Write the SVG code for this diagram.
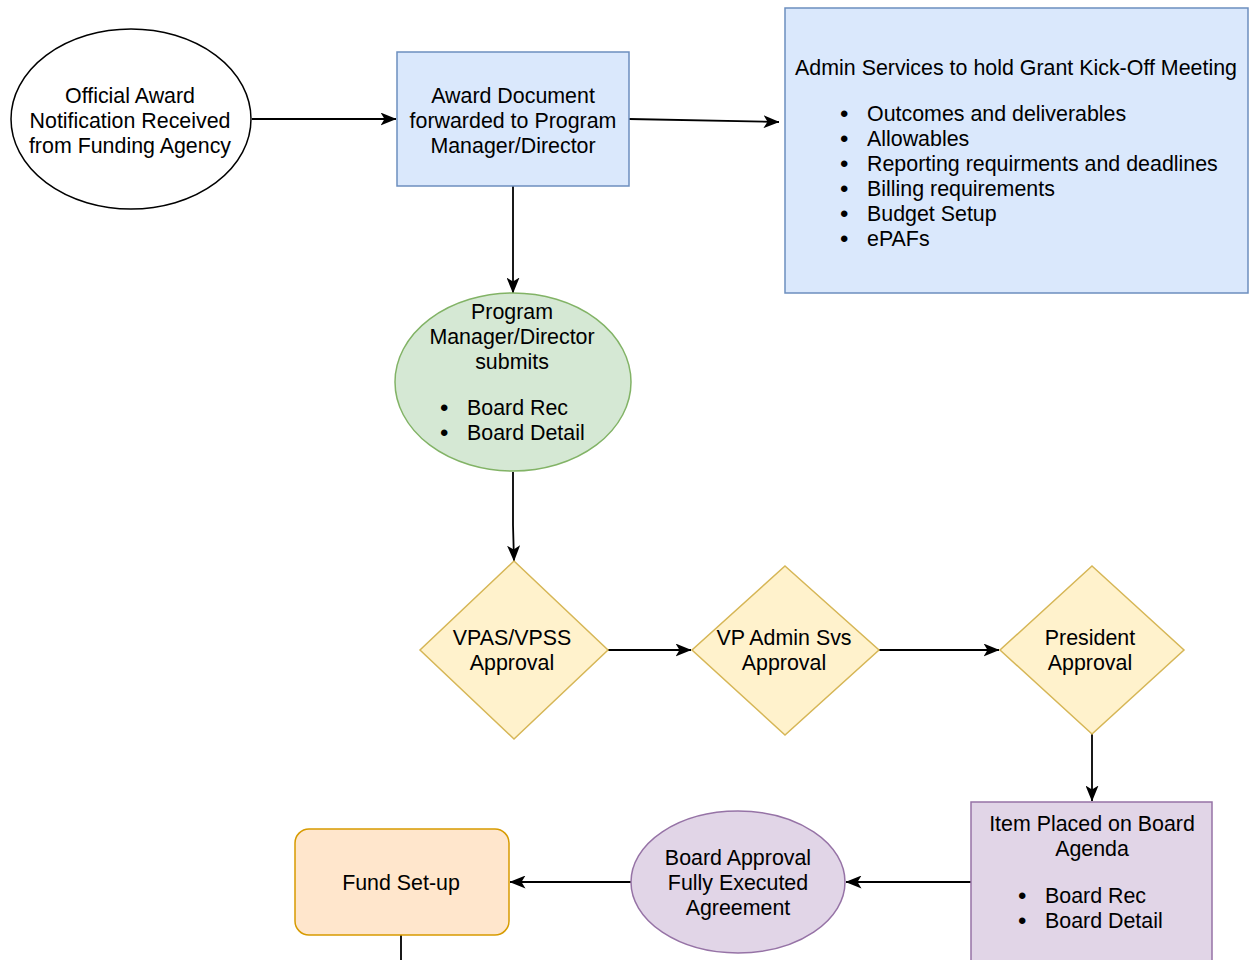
<svg xmlns="http://www.w3.org/2000/svg" width="1249" height="960" viewBox="0 0 1249 960">
<defs>
<marker id="arr" viewBox="0 0 16 13" refX="15.5" refY="6.5" markerWidth="16" markerHeight="13" markerUnits="userSpaceOnUse" orient="auto">
<path d="M0,0 L16,6.5 L0,13 L4,6.5 Z" fill="#000"/>
</marker>
</defs>
<style>
text{font-family:"Liberation Sans",Arial,sans-serif;font-size:21.4px;fill:#000}
.c{text-anchor:middle}
.b{font-size:24px}
.edge{fill:none;stroke:#000;stroke-width:1.8}
.blue{fill:#dae8fc;stroke:#6c8ebf;stroke-width:1.5}
.green{fill:#d5e8d4;stroke:#82b366;stroke-width:1.5}
.yellow{fill:#fff2cc;stroke:#d6b656;stroke-width:1.5}
.purple{fill:#e1d5e7;stroke:#9673a6;stroke-width:1.5}
.orange{fill:#ffe6cc;stroke:#d79b00;stroke-width:1.5}
</style>
<rect width="1249" height="960" fill="#fff"/>
<g id="connectors">
<path class="edge" d="M252,119 L396,119" marker-end="url(#arr)"/>
<path class="edge" d="M629,119 L779,122" marker-end="url(#arr)"/>
<path class="edge" d="M513,186 L513,293" marker-end="url(#arr)"/>
<path class="edge" d="M513,472 L513,525 L514,561" marker-end="url(#arr)"/>
<path class="edge" d="M608,650 L691,650" marker-end="url(#arr)"/>
<path class="edge" d="M879,650 L999,650" marker-end="url(#arr)"/>
<path class="edge" d="M1092,734 L1092,801" marker-end="url(#arr)"/>
<path class="edge" d="M971,882 L846,882" marker-end="url(#arr)"/>
<path class="edge" d="M631,882 L510,882" marker-end="url(#arr)"/>
<path class="edge" d="M401,935 L401,960"/>
</g>
<g id="award-notification">
<ellipse cx="131" cy="119" rx="120" ry="90" fill="#fff" stroke="#000" stroke-width="1.5"/>
<text class="c"><tspan x="130" y="103">Official Award</tspan><tspan x="130" y="128">Notification Received</tspan><tspan x="130" y="153">from Funding Agency</tspan></text>
</g>
<g id="award-document">
<rect class="blue" x="397" y="52" width="232" height="134"/>
<text class="c"><tspan x="513" y="103">Award Document</tspan><tspan x="513" y="128">forwarded to Program</tspan><tspan x="513" y="153">Manager/Director</tspan></text>
</g>
<g id="kickoff-meeting">
<rect class="blue" x="785" y="8" width="463" height="285"/>
<text class="c" x="1016" y="75">Admin Services to hold Grant Kick-Off Meeting</text>
<text><tspan class="b" x="840" y="122">•</tspan><tspan x="867" y="121">Outcomes and deliverables</tspan><tspan class="b" x="840" y="147">•</tspan><tspan x="867" y="146">Allowables</tspan><tspan class="b" x="840" y="172">•</tspan><tspan x="867" y="171">Reporting requirments and deadlines</tspan><tspan class="b" x="840" y="197">•</tspan><tspan x="867" y="196">Billing requirements</tspan><tspan class="b" x="840" y="222">•</tspan><tspan x="867" y="221">Budget Setup</tspan><tspan class="b" x="840" y="247">•</tspan><tspan x="867" y="246">ePAFs</tspan></text>
</g>
<g id="pm-submits">
<ellipse class="green" cx="513" cy="382" rx="118" ry="89"/>
<text class="c"><tspan x="512" y="319">Program</tspan><tspan x="512" y="344">Manager/Director</tspan><tspan x="512" y="369">submits</tspan></text>
<text><tspan class="b" x="440" y="416">•</tspan><tspan x="467" y="415">Board Rec</tspan><tspan class="b" x="440" y="441">•</tspan><tspan x="467" y="440">Board Detail</tspan></text>
</g>
<g id="vpas-approval">
<path class="yellow" d="M514,561 L608,650 L514,739 L420,650 Z"/>
<text class="c"><tspan x="512" y="645">VPAS/VPSS</tspan><tspan x="512" y="670">Approval</tspan></text>
</g>
<g id="vp-admin-approval">
<path class="yellow" d="M785,566 L879,650 L785,735 L692,650 Z"/>
<text class="c"><tspan x="784" y="645">VP Admin Svs</tspan><tspan x="784" y="670">Approval</tspan></text>
</g>
<g id="president-approval">
<path class="yellow" d="M1092,566 L1184,650 L1092,734 L1000,650 Z"/>
<text class="c"><tspan x="1090" y="645">President</tspan><tspan x="1090" y="670">Approval</tspan></text>
</g>
<g id="board-agenda">
<rect class="purple" x="971" y="802" width="241" height="172"/>
<text class="c"><tspan x="1092" y="831">Item Placed on Board</tspan><tspan x="1092" y="856">Agenda</tspan></text>
<text><tspan class="b" x="1018" y="904">•</tspan><tspan x="1045" y="903">Board Rec</tspan><tspan class="b" x="1018" y="929">•</tspan><tspan x="1045" y="928">Board Detail</tspan></text>
</g>
<g id="board-approval">
<ellipse class="purple" cx="738" cy="882" rx="107" ry="71"/>
<text class="c"><tspan x="738" y="865">Board Approval</tspan><tspan x="738" y="890">Fully Executed</tspan><tspan x="738" y="915">Agreement</tspan></text>
</g>
<g id="fund-setup">
<rect class="orange" x="295" y="829" width="214" height="106" rx="14"/>
<text class="c" x="401" y="890">Fund Set-up</text>
</g>
</svg>
